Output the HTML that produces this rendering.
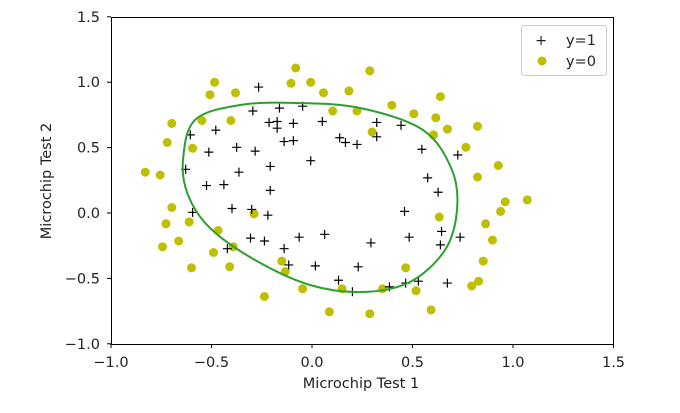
<!DOCTYPE html>
<html><head><meta charset="utf-8"><style>
body{margin:0;background:#fff;}
svg text{font-family:"DejaVu Sans","Liberation Sans",sans-serif;font-size:14.5px;fill:#222;}
</style></head><body>
<svg id="s" width="680" height="408" xmlns="http://www.w3.org/2000/svg">
<rect x="0" y="0" width="680" height="408" fill="#fff"/>
<g id="pts"></g>
<path id="curve" fill="none" stroke="#2ca02c" stroke-width="2"/>
<rect x="111.5" y="17.5" width="502" height="327" fill="none" stroke="#000" stroke-width="1"/>
<g id="ticks"></g>
<text x="361" y="388" text-anchor="middle">Microchip Test 1</text>
<text transform="translate(51,181) rotate(-90)" text-anchor="middle">Microchip Test 2</text>
<rect x="521.5" y="25.5" width="85" height="50" rx="3" fill="#fff" stroke="#ccc"/>
<text x="535" y="45" font-size="16">+</text>
<circle cx="542" cy="61" r="4.5" fill="#bfbf00"/>
<text x="566" y="45">y=1</text>
<text x="566" y="66">y=0</text>
</svg>
<script>
const X=v=>312+v*201, Y=v=>213-v*130.8;
const pos=[[0.051267,0.69956],[-0.092742,0.68494],[-0.21371,0.69225],[-0.375,0.50219],[-0.51325,0.46564],[-0.52477,0.2098],[-0.39804,0.034357],[-0.30588,-0.19225],[0.016705,-0.40424],[0.13191,-0.51389],[0.38537,-0.56506],[0.52938,-0.5212],[0.63882,-0.24342],[0.73675,-0.18494],[0.54666,0.48757],[0.322,0.5826],[0.16647,0.53874],[-0.046659,0.81652],[-0.17339,0.69956],[-0.47869,0.63377],[-0.60541,0.59722],[-0.62846,0.33406],[-0.59389,0.005117],[-0.42108,-0.27266],[-0.11578,-0.39693],[0.20104,-0.60161],[0.46601,-0.53582],[0.67339,-0.53582],[-0.13882,0.54605],[-0.29435,0.77997],[-0.26555,0.96272],[-0.16187,0.8019],[-0.17339,0.64839],[-0.28283,0.47295],[-0.36348,0.31213],[-0.30012,0.027047],[-0.23675,-0.21418],[-0.06394,-0.18494],[0.062788,-0.16301],[0.22984,-0.41155],[0.2932,-0.2288],[0.48329,-0.18494],[0.64459,-0.14108],[0.46025,0.012427],[0.6273,0.15863],[0.57546,0.26827],[0.72523,0.44371],[0.22408,0.52412],[0.44297,0.67032],[0.322,0.69225],[0.13767,0.57529],[-0.0063364,0.39985],[-0.092742,0.55336],[-0.20795,0.35599],[-0.20795,0.17325],[-0.43836,0.21711],[-0.21947,-0.016813],[-0.13882,-0.27266]];
const neg=[[0.18376,0.93348],[0.22408,0.77997],[0.29896,0.61915],[0.50634,0.75804],[0.61578,0.7288],[0.60426,0.59722],[0.76555,0.50219],[0.92684,0.3633],[0.82316,0.27558],[0.96141,0.085526],[0.93836,0.012427],[0.86348,-0.082602],[0.89804,-0.20687],[0.85196,-0.36769],[0.82892,-0.5212],[0.79435,-0.55775],[0.59274,-0.7405],[0.51786,-0.5943],[0.46601,-0.41886],[0.35081,-0.57968],[0.28744,-0.76974],[0.085829,-0.75512],[0.14919,-0.57968],[-0.13306,-0.4481],[-0.40956,-0.41155],[-0.39228,-0.25804],[-0.74366,-0.25804],[-0.69758,0.041667],[-0.75518,0.2902],[-0.69758,0.68494],[-0.4038,0.70687],[-0.38076,0.91886],[-0.50749,0.90424],[-0.54781,0.70687],[0.10311,0.77997],[0.057028,0.91886],[-0.10426,0.99196],[-0.081221,1.1089],[0.28744,1.087],[0.39689,0.82383],[0.63882,0.88962],[0.82316,0.66301],[0.67339,0.64108],[1.0709,0.10015],[-0.046659,-0.57968],[-0.23675,-0.63816],[-0.15035,-0.36769],[-0.49021,-0.3019],[-0.46717,-0.13377],[-0.28859,-0.0060673],[-0.61118,-0.067982],[-0.66302,-0.21418],[-0.59965,-0.41886],[-0.72638,-0.082602],[-0.83007,0.31213],[-0.72062,0.53874],[-0.59389,0.49488],[-0.48445,0.99927],[-0.0063364,0.99927],[0.63265,-0.030612]];
let h='';
for(const [a,b] of neg) h+=`<circle cx="${X(a).toFixed(1)}" cy="${Y(b).toFixed(1)}" r="4.5" fill="#bfbf00"/>`;
for(const [a,b] of pos){const x=X(a),y=Y(b);h+=`<path d="M${x-4.5},${y}H${x+4.5}M${x},${y-4.5}V${y+4.5}" stroke="#000" stroke-width="1.2"/>`;}
document.getElementById('pts').innerHTML=h;
const P=[[183,160],[195,120],[240,105],[297,103],[360,108],[423,130],[452,170],[457,210],[445,250],[410,282],[363,292],[310,285],[255,260],[210,228],[188,195]];
const n=P.length;let d=`M${P[0][0]},${P[0][1]}`;
for(let i=0;i<n;i++){const p0=P[(i-1+n)%n],p1=P[i],p2=P[(i+1)%n],p3=P[(i+2)%n];
d+=`C${p1[0]+(p2[0]-p0[0])/6},${p1[1]+(p2[1]-p0[1])/6} ${p2[0]-(p3[0]-p1[0])/6},${p2[1]-(p3[1]-p1[1])/6} ${p2[0]},${p2[1]}`;}
document.getElementById('curve').setAttribute('d',d+'Z');
let t='';const lab=v=>(v<0?'\u2212':'')+Math.abs(v).toFixed(1);
for(let v=-1;v<=1.5001;v+=0.5){const x=X(v);t+=`<line x1="${x}" x2="${x}" y1="344" y2="348" stroke="#000"/><text x="${x}" y="367" text-anchor="middle">${lab(v)}</text>`;
const y=Y(v);t+=`<line x1="107" x2="111" y1="${y}" y2="${y}" stroke="#000"/><text x="100" y="${y+5}" text-anchor="end">${lab(v)}</text>`;}
document.getElementById('ticks').innerHTML=t;
</script>
</body></html>
